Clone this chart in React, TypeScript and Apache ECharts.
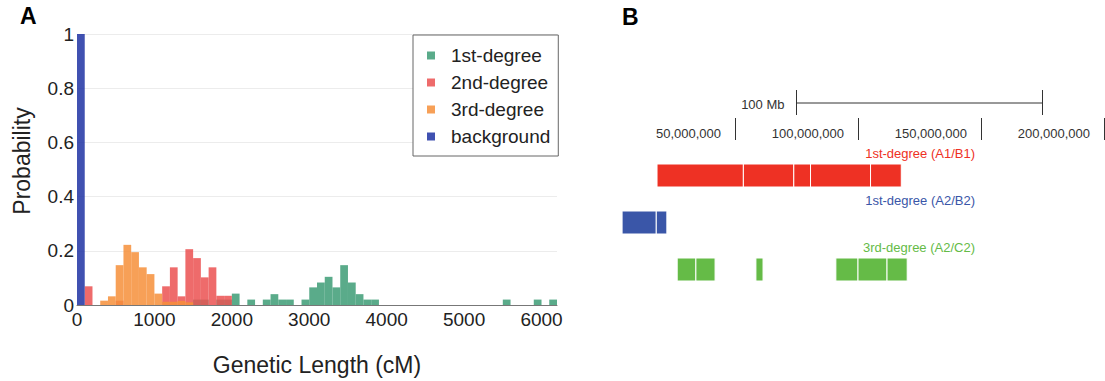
import React, { useEffect, useRef } from "react";
import * as echarts from "echarts";

const FONT = "'Liberation Sans', Arial, Helvetica, sans-serif";

// ---------- Panel A: histogram (bin start in cM, bin width 100 cM) ----------
const BIN_WIDTH = 100;
const firstDegreeBins = [1500, 1600, 1800, 1900, 2000, 2200, 2400, 2500, 2600, 2700, 2900, 3000, 3100, 3200, 3300, 3400, 3500, 3600, 3700, 3800, 5500, 5900, 6100];
const firstDegreeProb = [0.02, 0.02, 0.02, 0.02, 0.042, 0.02, 0.02, 0.04, 0.02, 0.02, 0.02, 0.065, 0.083, 0.104, 0.065, 0.147, 0.083, 0.04, 0.02, 0.02, 0.02, 0.02, 0.02];
const secondDegreeBins = [100, 500, 1100, 1200, 1300, 1400, 1500, 1600, 1700, 1800, 1900];
const secondDegreeProb = [0.069, 0.016, 0.069, 0.139, 0.032, 0.206, 0.173, 0.102, 0.139, 0.034, 0.034];
const thirdDegreeBins = [300, 400, 500, 600, 700, 800, 900, 1000, 1100, 1200, 1300, 1400];
const thirdDegreeProb = [0.016, 0.032, 0.147, 0.222, 0.195, 0.139, 0.114, 0.042, 0.012, 0.012, 0.015, 0.01];
const backgroundBins = [0];
const backgroundProb = [1.0];
const cMTicks = [0, 1000, 2000, 3000, 4000, 5000, 6000];

const seriesNames = ["1st-degree", "2nd-degree", "3rd-degree", "background"];
const seriesColors = ["#3d9c76", "#eb5151", "#f68f3a", "#1f33a3"];

// ---------- Panel B: IBD segments (bp) ----------
const trackNames = ["1st-degree (A1/B1)", "1st-degree (A2/B2)", "3rd-degree (A2/C2)"];
const trackColors = ["#ee3124", "#3a56a8", "#65bb47"];
const a1b1Start = [18.3e6, 53.4e6, 73.9e6, 80.7e6, 105.1e6];
const a1b1End = [53.4e6, 73.9e6, 80.7e6, 105.1e6, 117.6e6];
const a2b2Start = [4.1e6, 18.0e6];
const a2b2End = [18.0e6, 22.3e6];
const a2c2Start = [26.5e6, 34.1e6, 58.5e6, 91.0e6, 100.0e6, 111.8e6];
const a2c2End = [34.1e6, 41.9e6, 61.4e6, 100.0e6, 111.8e6, 120.0e6];
const positionTicks = [50e6, 100e6, 150e6, 200e6];
const scaleBarStart = 75e6;
const scaleBarEnd = 175e6;
const scaleBarLabel = "100 Mb";

const histRender = (params: any, api: any) => {
  const x0 = api.value(0);
  const v = api.value(1);
  const a = api.coord([x0, 0]);
  const b = api.coord([x0 + BIN_WIDTH, v]);
  return {
    type: "rect",
    shape: { x: a[0], y: b[1], width: b[0] - a[0], height: a[1] - b[1] },
    style: { fill: api.visual("color"), opacity: 0.85 },
  };
};

const segRender = (params: any, api: any) => {
  const s = api.coord([api.value(0), api.value(2)]);
  const e = api.coord([api.value(1), api.value(2)]);
  const band = api.size([0, 1])[1];
  const bottom = s[1] + band / 2;
  const h = 23;
  return {
    type: "rect",
    shape: { x: s[0], y: bottom - h, width: e[0] - s[0], height: h },
    style: { fill: api.visual("color"), stroke: "#ffffff", lineWidth: 1 },
  };
};

const scaleRender = (params: any, api: any) => {
  const a = api.coord([api.value(0), 0]);
  const b = api.coord([api.value(1), 0]);
  const y = params.coordSys.y - 37;
  return {
    type: "group",
    children: [
      { type: "line", shape: { x1: a[0], y1: y, x2: b[0], y2: y }, style: { stroke: "#333", lineWidth: 1 } },
      { type: "line", shape: { x1: a[0], y1: y - 13, x2: a[0], y2: y + 12 }, style: { stroke: "#333", lineWidth: 1 } },
      { type: "line", shape: { x1: b[0], y1: y - 13, x2: b[0], y2: y + 12 }, style: { stroke: "#333", lineWidth: 1 } },
      {
        type: "text",
        x: a[0] - 12,
        y: y + 1,
        style: { text: scaleBarLabel, fill: "#333", fontSize: 13, fontFamily: FONT, align: "right", verticalAlign: "middle" },
      },
    ],
  };
};

const histData = (bins: number[], probs: number[]) => bins.map((b, i) => [b, probs[i]]);
const segData = (starts: number[], ends: number[], track: number) => starts.map((s, i) => [s, ends[i], track]);

const option: any = {
  animation: false,
  textStyle: { fontFamily: FONT },
  graphic: [
    { type: "text", x: 20, y: 4, style: { text: "A", fontSize: 23, fontWeight: "bold", fontFamily: FONT, fill: "#000" } },
    { type: "text", x: 622, y: 5, style: { text: "B", fontSize: 23, fontWeight: "bold", fontFamily: FONT, fill: "#000" } },
    ...trackNames.map((t, i) => ({
      type: "text",
      x: 975,
      y: 153 + i * 47,
      style: { text: t, fill: trackColors[i], fontSize: 13, fontFamily: FONT, align: "right", verticalAlign: "middle" },
    })),
  ],
  legend: {
    data: seriesNames,
    orient: "vertical",
    left: 413,
    top: 35,
    padding: [11, 8, 10, 14],
    borderColor: "#666",
    borderWidth: 1,
    backgroundColor: "#fff",
    itemWidth: 8,
    itemHeight: 8,
    itemGap: 8,
    icon: "rect",
    itemStyle: { opacity: 0.85 },
    textStyle: { fontSize: 19, color: "#222", fontFamily: FONT, padding: [0, 0, 0, 11] },
  },
  grid: [
    { left: 77, top: 34, width: 480, height: 272 },
    { left: 612, top: 140, width: 492, height: 141 },
  ],
  xAxis: [
    {
      type: "value",
      gridIndex: 0,
      min: 0,
      max: 6200,
      interval: 1000,
      name: "Genetic Length (cM)",
      nameLocation: "middle",
      nameGap: 48,
      nameTextStyle: { fontSize: 23, color: "#222", fontFamily: FONT },
      axisLine: { lineStyle: { color: "#777", width: 1 } },
      axisTick: { show: false },
      splitLine: { show: false },
      axisLabel: {
        customValues: cMTicks,
        formatter: (v: number) => String(Math.round(v)),
        fontSize: 19,
        color: "#222",
        margin: 5,
        fontFamily: FONT,
      },
    },
    {
      type: "value",
      gridIndex: 1,
      position: "top",
      min: 0,
      max: 200e6,
      axisLine: { show: false },
      splitLine: { show: false },
      axisTick: { show: true, customValues: positionTicks, length: 22, lineStyle: { color: "#333", width: 1 } },
      axisLabel: {
        customValues: positionTicks,
        formatter: (v: number) => Math.round(v).toLocaleString("en-US"),
        fontSize: 13,
        color: "#333",
        align: "right",
        verticalAlign: "middle",
        margin: 7,
        padding: [0, 14, 0, 0],
        fontFamily: FONT,
      },
    },
  ],
  yAxis: [
    {
      type: "value",
      gridIndex: 0,
      min: 0,
      max: 1,
      interval: 0.2,
      name: "Probability",
      nameLocation: "middle",
      nameGap: 44,
      nameTextStyle: { fontSize: 23, color: "#222", fontFamily: FONT, padding: [0, 0, 0, 17] },
      axisLine: { show: false },
      axisTick: { show: false },
      splitLine: { lineStyle: { color: "#ececec", width: 1 } },
      axisLabel: { formatter: (v: number) => String(+v.toFixed(1)), fontSize: 19, color: "#222", margin: 3, fontFamily: FONT },
    },
    {
      type: "category",
      gridIndex: 1,
      inverse: true,
      data: trackNames,
      show: false,
    },
  ],
  series: [
    { name: seriesNames[0], type: "custom", xAxisIndex: 0, yAxisIndex: 0, itemStyle: { color: seriesColors[0] }, renderItem: histRender, encode: { x: 0, y: 1 }, data: histData(firstDegreeBins, firstDegreeProb) },
    { name: seriesNames[1], type: "custom", xAxisIndex: 0, yAxisIndex: 0, itemStyle: { color: seriesColors[1] }, renderItem: histRender, encode: { x: 0, y: 1 }, data: histData(secondDegreeBins, secondDegreeProb) },
    { name: seriesNames[2], type: "custom", xAxisIndex: 0, yAxisIndex: 0, itemStyle: { color: seriesColors[2] }, renderItem: histRender, encode: { x: 0, y: 1 }, data: histData(thirdDegreeBins, thirdDegreeProb) },
    { name: seriesNames[3], type: "custom", xAxisIndex: 0, yAxisIndex: 0, itemStyle: { color: seriesColors[3] }, renderItem: histRender, encode: { x: 0, y: 1 }, data: histData(backgroundBins, backgroundProb) },
    { name: "A1/B1", type: "custom", xAxisIndex: 1, yAxisIndex: 1, itemStyle: { color: trackColors[0] }, renderItem: segRender, encode: { x: [0, 1], y: 2 }, data: segData(a1b1Start, a1b1End, 0) },
    { name: "A2/B2", type: "custom", xAxisIndex: 1, yAxisIndex: 1, itemStyle: { color: trackColors[1] }, renderItem: segRender, encode: { x: [0, 1], y: 2 }, data: segData(a2b2Start, a2b2End, 1) },
    { name: "A2/C2", type: "custom", xAxisIndex: 1, yAxisIndex: 1, itemStyle: { color: trackColors[2] }, renderItem: segRender, encode: { x: [0, 1], y: 2 }, data: segData(a2c2Start, a2c2End, 2) },
    { name: "scale", type: "custom", xAxisIndex: 1, yAxisIndex: 1, clip: false, renderItem: scaleRender, encode: { x: [0, 1], y: 2 }, data: [[scaleBarStart, scaleBarEnd, 0]] },
  ],
};

export default function App() {
  const ref = useRef<HTMLDivElement>(null);
  useEffect(() => {
    const chart = echarts.init(ref.current as HTMLDivElement, null, { renderer: "svg" });
    chart.setOption(option);
    return () => chart.dispose();
  }, []);
  return (
    <div
      ref={ref}
      style={{ position: "fixed", left: 0, top: 0, width: 1105, height: 381, background: "#fff" }}
    />
  );
}
